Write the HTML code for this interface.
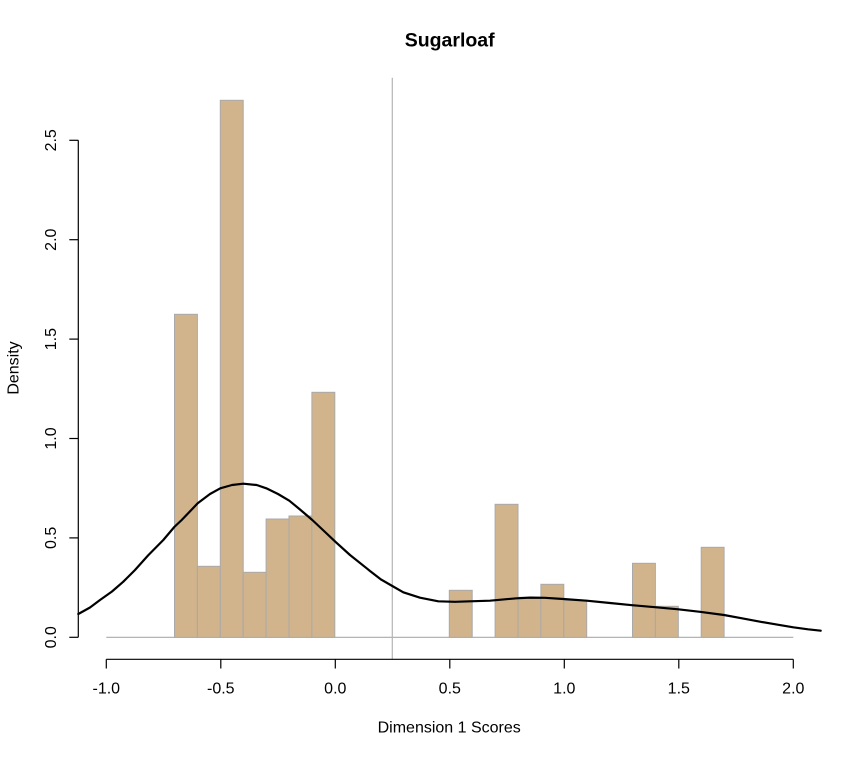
<!DOCTYPE html>
<html>
<head>
<meta charset="utf-8">
<style>
html,body{margin:0;padding:0;background:#fff;}
svg{display:block;}
text{font-family:"Liberation Sans",Arial,sans-serif;fill:#000;}
</style>
</head>
<body>
<svg width="861" height="757" viewBox="0 0 861 757" xmlns="http://www.w3.org/2000/svg">
<rect x="0" y="0" width="861" height="757" fill="#fff"/>
<!-- title -->
<text x="449.7" y="46.7" font-size="19.5" font-weight="bold" text-anchor="middle">Sugarloaf</text>

<!-- baseline -->
<line x1="106.3" y1="637.3" x2="793.3" y2="637.3" stroke="#a9a9a9" stroke-width="1.2"/>

<!-- bars -->
<g fill="#d2b48c" stroke="#a9a9a9" stroke-width="1">
<rect x="174.5" y="314.3" width="22.9" height="323"/>
<rect x="197.4" y="566.3" width="22.9" height="71"/>
<rect x="220.3" y="100.3" width="22.9" height="537"/>
<rect x="243.2" y="572.3" width="22.9" height="65"/>
<rect x="266.1" y="519" width="22.9" height="118.3"/>
<rect x="289.0" y="516" width="22.9" height="121.3"/>
<rect x="311.9" y="392.3" width="22.9" height="245"/>
<rect x="449.3" y="590.3" width="22.9" height="47"/>
<rect x="495.1" y="504.3" width="22.9" height="133"/>
<rect x="518.0" y="597.3" width="22.9" height="40"/>
<rect x="540.9" y="584.3" width="22.9" height="53"/>
<rect x="563.8" y="600.3" width="22.9" height="37"/>
<rect x="632.5" y="563.3" width="22.9" height="74"/>
<rect x="655.4" y="606.3" width="22.9" height="31"/>
<rect x="701.2" y="547.3" width="22.9" height="90"/>
</g>

<!-- vertical reference line -->
<line x1="392.3" y1="77.7" x2="392.3" y2="659.3" stroke="#b4b4b4" stroke-width="1.2"/>

<!-- density curve -->
<polyline fill="none" stroke="#000" stroke-width="2.2" stroke-linejoin="round" stroke-linecap="round"
points="78.3,614 90,607.5 100,600 112,591.5 123.3,581.7 135,570 148,555.5 163.3,540 174.3,527 181.7,520 197.7,503.3 210,494 220.3,488.3 232,485 243.3,483.7 256.7,485 266.3,488.3 278,494 289.3,500.7 300,509.5 312.3,520 324,531 335.3,541.7 350,555 366.7,568.3 370,571 381,579.5 392.3,586 403.3,592.3 420,597.7 438.3,601.3 455,601.8 470,601.3 490,600.7 505,599.3 516.7,598.3 530,597.6 545,597.8 563.3,599 586.7,600.7 610,603 633.3,605.3 655,607.2 678.3,609.3 700,611.8 724,615 742,618.3 760,621.7 777,624.6 793.3,627.3 808,629.3 820.7,630.7"/>

<!-- x axis -->
<g stroke="#000" stroke-width="1.2">
<line x1="106.3" y1="659.3" x2="793.3" y2="659.3"/>
<line x1="106.3" y1="659.3" x2="106.3" y2="668.5"/>
<line x1="220.8" y1="659.3" x2="220.8" y2="668.5"/>
<line x1="335.3" y1="659.3" x2="335.3" y2="668.5"/>
<line x1="449.8" y1="659.3" x2="449.8" y2="668.5"/>
<line x1="564.3" y1="659.3" x2="564.3" y2="668.5"/>
<line x1="678.8" y1="659.3" x2="678.8" y2="668.5"/>
<line x1="793.3" y1="659.3" x2="793.3" y2="668.5"/>
</g>
<g font-size="16" text-anchor="middle">
<text x="106.3" y="693.3">-1.0</text>
<text x="220.8" y="693.3">-0.5</text>
<text x="335.3" y="693.3">0.0</text>
<text x="449.8" y="693.3">0.5</text>
<text x="564.3" y="693.3">1.0</text>
<text x="678.8" y="693.3">1.5</text>
<text x="793.3" y="693.3">2.0</text>
</g>
<text x="449.2" y="732.7" font-size="16" text-anchor="middle">Dimension 1 Scores</text>

<!-- y axis -->
<g stroke="#000" stroke-width="1.2">
<line x1="78.3" y1="140.3" x2="78.3" y2="637.3"/>
<line x1="69.3" y1="637.3" x2="78.3" y2="637.3"/>
<line x1="69.3" y1="537.9" x2="78.3" y2="537.9"/>
<line x1="69.3" y1="438.5" x2="78.3" y2="438.5"/>
<line x1="69.3" y1="339.1" x2="78.3" y2="339.1"/>
<line x1="69.3" y1="239.7" x2="78.3" y2="239.7"/>
<line x1="69.3" y1="140.3" x2="78.3" y2="140.3"/>
</g>
<g font-size="16" text-anchor="middle">
<text transform="translate(56,637.3) rotate(-90)">0.0</text>
<text transform="translate(56,537.9) rotate(-90)">0.5</text>
<text transform="translate(56,438.5) rotate(-90)">1.0</text>
<text transform="translate(56,339.1) rotate(-90)">1.5</text>
<text transform="translate(56,239.7) rotate(-90)">2.0</text>
<text transform="translate(56,140.3) rotate(-90)">2.5</text>
</g>
<text transform="translate(18.3,368) rotate(-90)" font-size="16" text-anchor="middle">Density</text>
</svg>
</body>
</html>
